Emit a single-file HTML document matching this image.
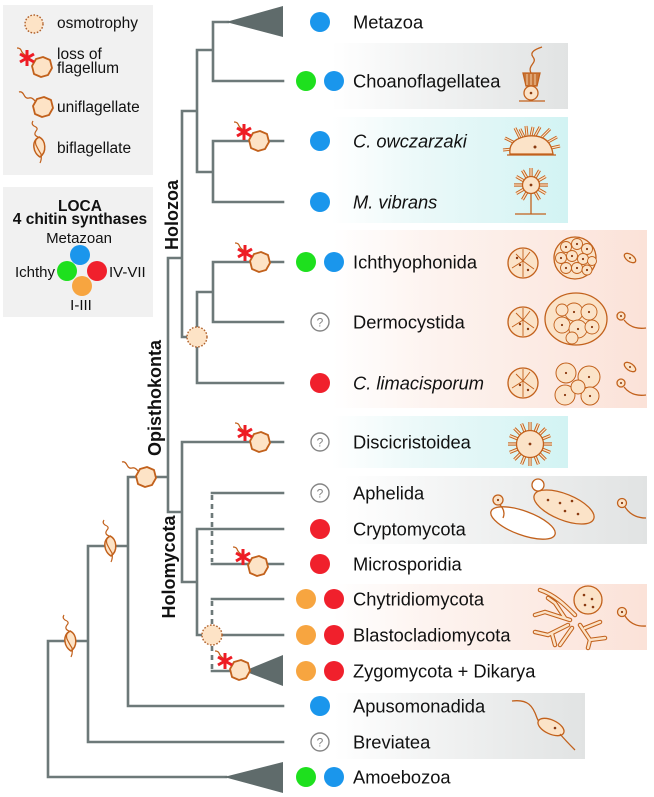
<!DOCTYPE html>
<html><head><meta charset="utf-8">
<style>
html,body{margin:0;padding:0;background:#fff;}
svg{display:block;}
text{font-family:"Liberation Sans",Arial,sans-serif;fill:#111;}
.tx{font-size:18.3px;}
.it{font-style:italic;}
.lg{font-size:15.5px;}
.cl{font-size:18px;font-weight:bold;}
</style></head><body>
<svg width="654" height="797" viewBox="0 0 654 797" xmlns="http://www.w3.org/2000/svg">
<defs>
<linearGradient id="gGray" x1="0" x2="1" y1="0" y2="0">
 <stop offset="0" stop-color="#ffffff"/><stop offset="0.15" stop-color="#ffffff"/><stop offset="0.45" stop-color="#f3f4f4"/><stop offset="1" stop-color="#e1e3e3"/>
</linearGradient>
<linearGradient id="gCyan" x1="0" x2="1" y1="0" y2="0">
 <stop offset="0" stop-color="#ffffff"/><stop offset="0.15" stop-color="#ffffff"/><stop offset="0.45" stop-color="#ecf9f9"/><stop offset="1" stop-color="#d2f3f3"/>
</linearGradient>
<linearGradient id="gPink" x1="0" x2="1" y1="0" y2="0">
 <stop offset="0" stop-color="#ffffff"/><stop offset="0.12" stop-color="#ffffff"/><stop offset="0.4" stop-color="#fdf3ef"/><stop offset="1" stop-color="#fbe2d8"/>
</linearGradient>
<g id="hex"><polygon points="-10,-1 -6,-8 1,-10 8,-7 10,1 6,8 -1,10 -8,7" fill="#fde3c6" stroke="#c2611c" stroke-width="1.8" stroke-linejoin="round"/></g>
<g id="loss">
 <path d="M5,3 q-4,-4 -7,-6 q-3,-2 -4,-5 q-1,-2 -4,-2" fill="none" stroke="#c2611c" stroke-width="1.2"/>
 <use href="#hex" x="15" y="9"/>
 <g stroke="#ee1c25" stroke-width="3"><line x1="0" y1="-8" x2="0" y2="8"/><line x1="-7" y1="-4" x2="7" y2="4"/><line x1="-7" y1="4" x2="7" y2="-4"/></g>
</g>
<g id="uni">
 <path d="M-8,-6 q-3,-4 -6,-3 q-3,1 -5,-3 q-2,-4 -5,-3" fill="none" stroke="#c2611c" stroke-width="1.3"/>
 <use href="#hex" x="0" y="0"/>
</g>
<g id="bi">
 <path d="M0,-10 C7,-7 8,5 1,10 C-6,6 -8,-6 0,-10 Z" fill="#fde3c6" stroke="#c2611c" stroke-width="1.5"/>
 <path d="M-1,-10 q-5,-2 -2,-6 q3,-3 -2,-5 q-3,-2 -1,-5" fill="none" stroke="#c2611c" stroke-width="1.2"/>
 <path d="M1,-10 q-6,2 -4,8 q3,6 5,9 q1,5 -1,9" fill="none" stroke="#c2611c" stroke-width="1.2"/>
</g>
</defs>

<!-- legend boxes -->
<rect x="3" y="5" width="150" height="170" fill="#f1f1f1"/>
<rect x="3" y="187" width="150" height="130" fill="#f1f1f1"/>

<!-- panels -->
<rect x="290" y="43" width="278" height="66" fill="url(#gGray)"/>
<rect x="290" y="117" width="278" height="106" fill="url(#gCyan)"/>
<rect x="290" y="230" width="357" height="178" fill="url(#gPink)"/>
<rect x="290" y="416" width="278" height="52" fill="url(#gCyan)"/>
<rect x="290" y="476" width="357" height="68" fill="url(#gGray)"/>
<rect x="290" y="584" width="357" height="66" fill="url(#gPink)"/>
<rect x="290" y="693" width="295" height="66" fill="url(#gGray)"/>

<!-- tree -->
<g stroke="#6d7979" stroke-width="2.6" fill="none" stroke-linecap="square">
<path d="M213,22H228 M213,22V81H283 M197,50H213 M197,50V172 M213,141H283 M213,141V202H283 M197,172H213 M182,111H197 M182,111V337H197 M197,292V383H283 M197,292H213 M213,262H283 M213,262V322H283 M168,258H182 M168,258V512H182 M182,442H283 M182,442V582H197 M197,529H283 M197,529V635H283 M212,493H283 M212,564H283 M212,599H283 M212,671H246 M128,477H168 M128,477V706H283 M88,546H128 M88,546V742H283 M48,641H88 M48,641V777H226"/>
</g>
<g stroke="#6d7979" stroke-width="2.6" fill="none" stroke-dasharray="5,4">
<path d="M212,495V562 M212,601V669"/>
</g>
<g fill="#5f6b6b">
<polygon points="226,22 283,6 283,37"/>
<polygon points="244,671 283,655 283,686"/>
<polygon points="224,777 283,762 283,793"/>
</g>

<!-- osmotrophy nodes -->
<g fill="#fde3c6" stroke="#b0602a" stroke-width="1.4" stroke-dasharray="1.6,1.6">
<circle cx="197" cy="337" r="10"/>
<circle cx="212" cy="635" r="10"/>
<circle cx="34" cy="24" r="9"/>
</g>

<!-- loss icons -->
<use href="#loss" transform="translate(244,132)"/>
<use href="#loss" transform="translate(245,253)"/>
<use href="#loss" transform="translate(245,433)"/>
<use href="#loss" transform="translate(243,557)"/>
<use href="#loss" transform="translate(225,661)"/>
<use href="#loss" transform="translate(27,58)"/>
<!-- uniflagellate -->
<use href="#uni" transform="translate(146,477)"/>
<use href="#uni" transform="translate(43,107)"/>
<!-- biflagellate -->
<use href="#bi" transform="translate(110,546)"/>
<use href="#bi" transform="translate(70,641)"/>
<use href="#bi" transform="translate(39,147)"/>

<!-- clade labels -->
<text class="cl" transform="translate(178,215) rotate(-90)" text-anchor="middle">Holozoa</text>
<text class="cl" transform="translate(161,398) rotate(-90)" text-anchor="middle">Opisthokonta</text>
<text class="cl" transform="translate(175,567) rotate(-90)" text-anchor="middle">Holomycota</text>

<!-- legend text -->
<text class="lg" x="57" y="28">osmotrophy</text>
<text class="lg" x="57" y="59">loss of</text>
<text class="lg" x="57" y="73">flagellum</text>
<text class="lg" x="57" y="112">uniflagellate</text>
<text class="lg" x="57" y="153">biflagellate</text>
<text x="80" y="211" text-anchor="middle" style="font-size:15.5px;font-weight:bold">LOCA</text>
<text x="80" y="224" text-anchor="middle" style="font-size:15.5px;font-weight:bold">4 chitin synthases</text>
<text x="79" y="243" text-anchor="middle" style="font-size:15px">Metazoan</text>
<text x="55" y="277" text-anchor="end" style="font-size:15px">Ichthy</text>
<text x="109" y="277" style="font-size:15px">IV-VII</text>
<text x="81" y="310" text-anchor="middle" style="font-size:15px">I-III</text>
<circle cx="80" cy="255" r="10" fill="#1a96ec"/>
<circle cx="67" cy="271" r="10" fill="#1ee01e"/>
<circle cx="97" cy="271" r="10" fill="#f0202c"/>
<circle cx="82" cy="286" r="10" fill="#f7a540"/>

<!-- dots -->
<g>
<circle cx="320" cy="22" r="10" fill="#1a96ec"/>
<circle cx="306" cy="81" r="10" fill="#1ee01e"/><circle cx="334" cy="81" r="10" fill="#1a96ec"/>
<circle cx="320" cy="141" r="10" fill="#1a96ec"/>
<circle cx="320" cy="202" r="10" fill="#1a96ec"/>
<circle cx="306" cy="262" r="10" fill="#1ee01e"/><circle cx="334" cy="262" r="10" fill="#1a96ec"/>
<circle cx="320" cy="383" r="10" fill="#f0202c"/>
<circle cx="320" cy="529" r="10" fill="#f0202c"/>
<circle cx="320" cy="564" r="10" fill="#f0202c"/>
<circle cx="306" cy="599" r="10" fill="#f7a540"/><circle cx="334" cy="599" r="10" fill="#f0202c"/>
<circle cx="306" cy="635" r="10" fill="#f7a540"/><circle cx="334" cy="635" r="10" fill="#f0202c"/>
<circle cx="306" cy="671" r="10" fill="#f7a540"/><circle cx="334" cy="671" r="10" fill="#f0202c"/>
<circle cx="320" cy="706" r="10" fill="#1a96ec"/>
<circle cx="306" cy="777" r="10" fill="#1ee01e"/><circle cx="334" cy="777" r="10" fill="#1a96ec"/>
</g>
<g fill="#fff" stroke="#858585" stroke-width="1.4">
<circle cx="320" cy="322" r="9"/><circle cx="320" cy="442" r="9"/><circle cx="320" cy="493" r="9"/><circle cx="320" cy="742" r="9"/>
</g>
<g style="font-size:12px;fill:#858585" text-anchor="middle">
<text x="320" y="326.5" style="fill:#858585">?</text><text x="320" y="446.5" style="fill:#858585">?</text><text x="320" y="497.5" style="fill:#858585">?</text><text x="320" y="746.5" style="fill:#858585">?</text>
</g>

<!-- taxon labels -->
<text class="tx" x="353" y="28.5">Metazoa</text>
<text class="tx" x="353" y="87.5">Choanoflagellatea</text>
<text class="tx it" x="353" y="147.5">C. owczarzaki</text>
<text class="tx it" x="353" y="208.5">M. vibrans</text>
<text class="tx" x="353" y="268.5">Ichthyophonida</text>
<text class="tx" x="353" y="328.5">Dermocystida</text>
<text class="tx it" x="353" y="389.5">C. limacisporum</text>
<text class="tx" x="353" y="448.5">Discicristoidea</text>
<text class="tx" x="353" y="499.5">Aphelida</text>
<text class="tx" x="353" y="535.5">Cryptomycota</text>
<text class="tx" x="353" y="570.5">Microsporidia</text>
<text class="tx" x="353" y="605.5">Chytridiomycota</text>
<text class="tx" x="353" y="641.5">Blastocladiomycota</text>
<text class="tx" x="353" y="677.5">Zygomycota + Dikarya</text>
<text class="tx" x="353" y="712.5">Apusomonadida</text>
<text class="tx" x="353" y="748.5">Breviatea</text>
<text class="tx" x="353" y="783.5">Amoebozoa</text>

<!-- illustrations -->
<g stroke="#c2611c" stroke-width="1.3" fill="#fbe3c8">
<!-- choanoflagellate -->
<path d="M531,73 C527,65 538,63 533,57 C529,52 536,49 542,47" fill="none"/>
<polygon points="523,73 540,73 537,86 526,86" fill="#c8773a"/>
<path d="M527,74V85 M531,74V85 M535,74V85" stroke="#f3cfa8" stroke-width="1"/>
<circle cx="531" cy="93" r="7"/>
<circle cx="531" cy="93" r="1.3" fill="#8a3a10" stroke="none"/>
<line x1="519" y1="101" x2="545" y2="101"/>

<!-- C. owczarzaki -->
<path d="M515,143 L505,138 M513,149 L503,150 M520,138 L515,128 M527,136 L526,126 M535,136 L540,127 M542,137 L550,129 M548,142 L557,137 M551,148 L560,146 M524,137 L520,129 M531,136 L533,127" stroke-width="3" fill="none"/>
<path d="M515,143 L505,138 M513,149 L503,150 M520,138 L515,128 M527,136 L526,126 M535,136 L540,127 M542,137 L550,129 M548,142 L557,137 M551,148 L560,146 M524,137 L520,129 M531,136 L533,127" stroke="#fbe3c8" stroke-width="1.2" fill="none"/>
<path d="M510,154 Q508,139 528,136 Q550,134 553,154 Z"/>
<line x1="507" y1="155" x2="556" y2="155"/>
<circle cx="535" cy="147" r="1.5" fill="#8a3a10" stroke="none"/>

<!-- M. vibrans -->
<line x1="531" y1="193" x2="531" y2="214"/>
<line x1="515" y1="214" x2="546" y2="214"/>
<path d="M539,185L548,185 M537.9,189L545.7,193.5 M535,191.9L539.5,199.7 M527,191.9L522.5,199.7 M524.1,189L516.3,193.5 M523,185L514,185 M524.1,181L516.3,176.5 M527,178.1L522.5,170.3 M531,177L531,168 M535,178.1L539.5,170.3 M537.9,181L545.7,176.5" stroke-width="3.2" fill="none"/>
<path d="M539,185L548,185 M537.9,189L545.7,193.5 M535,191.9L539.5,199.7 M527,191.9L522.5,199.7 M524.1,189L516.3,193.5 M523,185L514,185 M524.1,181L516.3,176.5 M527,178.1L522.5,170.3 M531,177L531,168 M535,178.1L539.5,170.3 M537.9,181L545.7,176.5" stroke="#fbe3c8" stroke-width="1.3" fill="none"/>
<circle cx="531" cy="185" r="8.5"/>
<circle cx="531" cy="185" r="1.4" fill="#8a3a10" stroke="none"/>

<!-- Discicristoidea -->
<path d="M543,444L552,444 M542,449L550.3,452.4 M539.2,453.2L545.6,459.6 M535,456L538.4,464.3 M530,457L530,466 M525,456L521.6,464.3 M520.8,453.2L514.4,459.6 M518,449L509.7,452.4 M517,444L508,444 M518,439L509.7,435.6 M520.8,434.8L514.4,428.4 M525,432L521.6,423.7 M530,431L530,422 M535,432L538.4,423.7 M539.2,434.8L545.6,428.4 M542,439L550.3,435.6" stroke-width="3.2" fill="none"/>
<path d="M543,444L552,444 M542,449L550.3,452.4 M539.2,453.2L545.6,459.6 M535,456L538.4,464.3 M530,457L530,466 M525,456L521.6,464.3 M520.8,453.2L514.4,459.6 M518,449L509.7,452.4 M517,444L508,444 M518,439L509.7,435.6 M520.8,434.8L514.4,428.4 M525,432L521.6,423.7 M530,431L530,422 M535,432L538.4,423.7 M539.2,434.8L545.6,428.4 M542,439L550.3,435.6" stroke="#fbe3c8" stroke-width="1.3" fill="none"/>
<circle cx="530" cy="444" r="13.5"/>
<circle cx="530" cy="444" r="1.4" fill="#8a3a10" stroke="none"/>

<!-- Ichthyosporea: small circles with cleavage -->
<circle cx="523" cy="263" r="15"/>
<path d="M523,249V261 M512,268L523,261L534,269 M516,254L523,261 M530,252L523,261 M523,261V277" fill="none" stroke-width="0.9"/>
<circle cx="523" cy="322" r="15"/>
<path d="M523,308V320 M512,327L523,320L534,328 M516,313L523,320 M530,311L523,320 M523,320V336" fill="none" stroke-width="0.9"/>
<circle cx="523" cy="383" r="15"/>
<path d="M523,369V381 M512,388L523,381L534,389 M516,374L523,381 M530,372L523,381 M523,381V397" fill="none" stroke-width="0.9"/>

<!-- Ichthyophonida big -->
<circle cx="575" cy="258" r="21"/>
<g stroke-width="0.9">
<circle cx="566" cy="247" r="5.5"/><circle cx="577" cy="244" r="5.5"/><circle cx="587" cy="249" r="5.5"/>
<circle cx="561" cy="258" r="5.5"/><circle cx="572" cy="256" r="5.5"/><circle cx="583" cy="259" r="5.5"/><circle cx="592" cy="261" r="4.5"/>
<circle cx="566" cy="268" r="5.5"/><circle cx="577" cy="268" r="5.5"/><circle cx="587" cy="270" r="5"/>
</g>
<ellipse cx="630" cy="258" rx="6.5" ry="3.5" transform="rotate(35 630 258)"/>

<!-- Dermocystida big -->
<ellipse cx="576" cy="319" rx="31" ry="26"/>
<g stroke-width="0.9">
<circle cx="562" cy="325" r="8"/><circle cx="574" cy="312" r="9"/><circle cx="589" cy="312" r="8"/>
<circle cx="578" cy="329" r="9"/><circle cx="592" cy="327" r="7"/><circle cx="562" cy="310" r="6"/><circle cx="572" cy="338" r="6"/>
</g>
<circle cx="621" cy="316" r="4"/>
<path d="M624,320 Q632,330 646,328" fill="none"/>

<!-- C. limacisporum cluster -->
<g stroke-width="1">
<circle cx="566" cy="373" r="10"/><circle cx="589" cy="377" r="11"/>
<circle cx="565" cy="395" r="10"/><circle cx="590" cy="396" r="9"/><circle cx="578" cy="387" r="7"/>
</g>
<ellipse cx="630" cy="367" rx="6.5" ry="3.5" transform="rotate(35 630 367)"/>
<circle cx="621" cy="383" r="4"/>
<path d="M624,387 Q632,397 646,395" fill="none"/>

<!-- Aphelida / Cryptomycota -->
<ellipse cx="523" cy="523" rx="34" ry="12" transform="rotate(20 523 523)" fill="#fff"/>
<ellipse cx="564" cy="507" rx="32" ry="13" transform="rotate(22 564 507)"/>
<circle cx="538" cy="485" r="6" fill="#fff"/>
<circle cx="498" cy="500" r="5"/>
<path d="M500,505 Q506,511 503,518" fill="none"/>
<circle cx="622" cy="503" r="4.5"/>
<path d="M625,507 Q632,518 646,518" fill="none"/>

<!-- Chytrid rhizoids -->
<path d="M575,615 C565,605 555,595 540,590 M570,620 L545,612 L535,615 M568,625 L548,635 L535,632 M572,628 L560,645 M580,625 L590,640 L605,638 M585,628 L600,622 M565,618 L555,603 L548,598 M552,634 L555,645 M590,640 L588,648" stroke-width="4.5" fill="none" stroke-linecap="round"/>
<path d="M575,615 C565,605 555,595 540,590 M570,620 L545,612 L535,615 M568,625 L548,635 L535,632 M572,628 L560,645 M580,625 L590,640 L605,638 M585,628 L600,622 M565,618 L555,603 L548,598 M552,634 L555,645 M590,640 L588,648" stroke="#fbe3c8" stroke-width="2.4" fill="none" stroke-linecap="round"/>
<circle cx="588" cy="600" r="14"/>
<circle cx="622" cy="612" r="4.5"/>
<path d="M625,616 Q632,627 646,626" fill="none"/>

<!-- Apusomonad -->
<path d="M512,701 C528,699 533,706 537,718 C540,726 545,724 548,722" fill="none"/>
<ellipse cx="551" cy="727" rx="14" ry="7" transform="rotate(25 551 727)"/>
<path d="M560,734 Q566,741 575,750" fill="none"/>
</g>
<!-- nuclei dots -->
<g fill="#8a3a10">
<circle cx="520" cy="265" r="1.2"/><circle cx="528" cy="270" r="1.2"/><circle cx="517" cy="258" r="1.2"/>
<circle cx="566" cy="247" r="1.1"/><circle cx="577" cy="244" r="1.1"/><circle cx="587" cy="249" r="1.1"/><circle cx="561" cy="258" r="1.1"/><circle cx="572" cy="256" r="1.1"/><circle cx="583" cy="259" r="1.1"/><circle cx="566" cy="268" r="1.1"/><circle cx="577" cy="268" r="1.1"/><circle cx="587" cy="270" r="1.1"/>
<circle cx="520" cy="324" r="1.2"/><circle cx="528" cy="329" r="1.2"/>
<circle cx="562" cy="325" r="1.1"/><circle cx="574" cy="312" r="1.1"/><circle cx="589" cy="312" r="1.1"/><circle cx="578" cy="329" r="1.1"/><circle cx="592" cy="327" r="1.1"/>
<circle cx="520" cy="385" r="1.2"/><circle cx="528" cy="390" r="1.2"/>
<circle cx="566" cy="373" r="1.1"/><circle cx="589" cy="377" r="1.1"/><circle cx="565" cy="395" r="1.1"/><circle cx="590" cy="396" r="1.1"/>
<circle cx="630" cy="258" r="1"/><circle cx="630" cy="367" r="1"/>
<circle cx="621" cy="316" r="1"/><circle cx="621" cy="383" r="1"/>
<circle cx="548" cy="500" r="1.3"/><circle cx="560" cy="503" r="1.3"/><circle cx="572" cy="501" r="1.3"/><circle cx="565" cy="511" r="1.3"/><circle cx="578" cy="514" r="1.3"/>
<circle cx="498" cy="500" r="1.1"/><circle cx="622" cy="503" r="1.1"/>
<circle cx="584" cy="595" r="1.3"/><circle cx="592" cy="599" r="1.3"/><circle cx="585" cy="605" r="1.3"/><circle cx="593" cy="607" r="1.3"/>
<circle cx="622" cy="612" r="1.1"/>
<circle cx="555" cy="728" r="1.3"/>
</g>
</svg>
</body></html>
